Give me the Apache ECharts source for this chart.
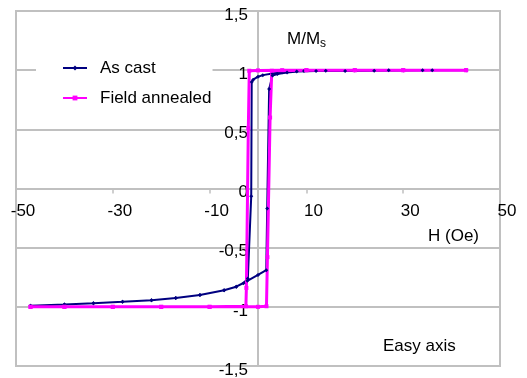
<!DOCTYPE html>
<html>
<head>
<meta charset="utf-8">
<script src="https://cdn.jsdelivr.net/npm/echarts@6.0.0/dist/echarts.min.js"></script>
<style>
  html, body { margin: 0; padding: 0; background: #fff; }
  #chart { width: 527px; height: 378px; }
</style>
</head>
<body>
<div id="chart"></div>
<script>
// As cast loop: descending branch then ascending branch (H in Oe, M/Ms)
const asCastH = [43, 36, 30, 24, 18, 12, 8, 5, 3, 1, 0, -1, -1.3, -1.4, -2.1, -3, -4.5, -7, -12, -17, -22, -28, -34, -40, -47,
  -47, -40, -34, -28, -22, -17, -12, -7, -4.5, -2.2, 0, 1.7, 1.9, 2.3, 3, 4, 6, 9.5, 14, 20, 27, 34, 43];
const asCastM = [1.0, 1.0, 0.998, 0.996, 0.994, 0.992, 0.988, 0.982, 0.972, 0.958, 0.945, 0.92, 0.9, -0.065, -0.76, -0.8, -0.83, -0.86, -0.9, -0.925, -0.945, -0.958, -0.97, -0.98, -0.99,
  -0.99, -0.98, -0.97, -0.958, -0.945, -0.925, -0.9, -0.86, -0.83, -0.78, -0.73, -0.69, -0.17, 0.84, 0.955, 0.968, 0.98, 0.993, 0.995, 0.997, 0.999, 1.0, 1.0];

// Field annealed loop
const fieldH = [43, 30, 20, 10, 5, 0, -1.8, -2.0, -2.4, -2.5, -10, -20, -30, -40, -47,
  -47, -40, -30, -20, -10, 0, 1.75, 1.95, 2.5, 2.85, 10, 20, 30, 43];
const fieldM = [1.0, 1.0, 1.0, 1.0, 1.0, 0.998, 0.995, 0.51, -0.84, -0.995, -1.0, -1.0, -1.0, -1.0, -1.0,
  -1.0, -1.0, -1.0, -1.0, -1.0, -1.0, -0.995, -0.58, 0.6, 0.995, 1.0, 1.0, 1.0, 1.0];

const seriesNames = ['As cast', 'Field annealed'];

const FONT = '"Liberation Sans", Arial, sans-serif';
const GRAY = '#c0c0c0';

// plot box
const W = 527, H = 378;
const G = { left: 16, right: 27, top: 11, bottom: 12 };
const X_MIN = -50, X_MAX = 50, Y_MIN = -1.5, Y_MAX = 1.5;
// axes cross at (0, 0): shift them in from the box edges
const plotW = W - G.left - G.right;
const plotH = H - G.top - G.bottom;
const yAxisOffset = -plotW * (0 - X_MIN) / (X_MAX - X_MIN);
const xAxisOffset = -plotH * (0 - Y_MIN) / (Y_MAX - Y_MIN);

const pairs = (xs, ys) => xs.map((x, i) => [x, ys[i]]);

const chart = echarts.init(document.getElementById('chart'));
chart.setOption({
  animation: false,
  textStyle: { fontFamily: FONT },
  grid: {
    left: G.left,
    right: G.right,
    top: G.top,
    bottom: G.bottom,
    show: true,
    borderColor: GRAY,
    borderWidth: 2,
    containLabel: false,
    outerBoundsMode: 'none',
  },
  legend: {
    data: seriesNames,
    orient: 'vertical',
    align: 'left',
    left: 36,
    top: 53,
    padding: [5, 1, 5, 26],
    backgroundColor: '#fff',
    itemWidth: 24,
    itemHeight: 6,
    itemGap: 10,
    textStyle: {
      fontFamily: FONT,
      fontSize: 17,
      color: '#000',
      lineHeight: 20,
      padding: [0, 0, 0, 8],
    },
  },
  xAxis: {
    type: 'value',
    min: X_MIN,
    max: X_MAX,
    interval: 20,
    position: 'bottom',
    offset: xAxisOffset,
    axisLine: { onZero: false, lineStyle: { color: GRAY, width: 2 } },
    axisTick: { show: true, length: 5, lineStyle: { color: GRAY, width: 1.5 } },
    axisLabel: {
      fontFamily: FONT,
      fontSize: 17,
      color: '#000',
      margin: 14,
      padding: [0, 0, 0, 14],
    },
    splitLine: { show: false },
  },
  yAxis: {
    type: 'value',
    min: Y_MIN,
    max: Y_MAX,
    interval: 0.5,
    position: 'left',
    offset: yAxisOffset,
    axisLine: { onZero: false, lineStyle: { color: GRAY, width: 2 } },
    axisTick: { show: false },
    axisLabel: {
      fontFamily: FONT,
      fontSize: 17,
      color: '#000',
      margin: 10,
      verticalAlign: 'top',
      lineHeight: 8,
      formatter: (v) => String(v).replace('.', ','),
    },
    splitLine: { show: true, lineStyle: { color: GRAY, width: 2 } },
  },
  graphic: [
    { type: 'text', x: 287, y: 39, style: { text: 'M/M', font: '17px ' + FONT, fill: '#000', verticalAlign: 'middle' } },
    { type: 'text', x: 320, y: 44, style: { text: 's', font: '12px ' + FONT, fill: '#000', verticalAlign: 'middle' } },
    { type: 'text', x: 428, y: 236, style: { text: 'H (Oe)', font: '17px ' + FONT, fill: '#000', verticalAlign: 'middle' } },
    { type: 'text', x: 383, y: 346, style: { text: 'Easy axis', font: '17px ' + FONT, fill: '#000', verticalAlign: 'middle' } },
  ],
  series: [
    {
      name: seriesNames[0],
      type: 'line',
      color: '#000080',
      symbol: 'diamond',
      symbolSize: 4,
      lineStyle: { width: 2 },
      data: pairs(asCastH, asCastM),
    },
    {
      name: seriesNames[1],
      type: 'line',
      color: '#ff00ff',
      symbol: 'rect',
      symbolSize: 4,
      lineStyle: { width: 3 },
      data: pairs(fieldH, fieldM),
    },
  ],
});
</script>
</body>
</html>
